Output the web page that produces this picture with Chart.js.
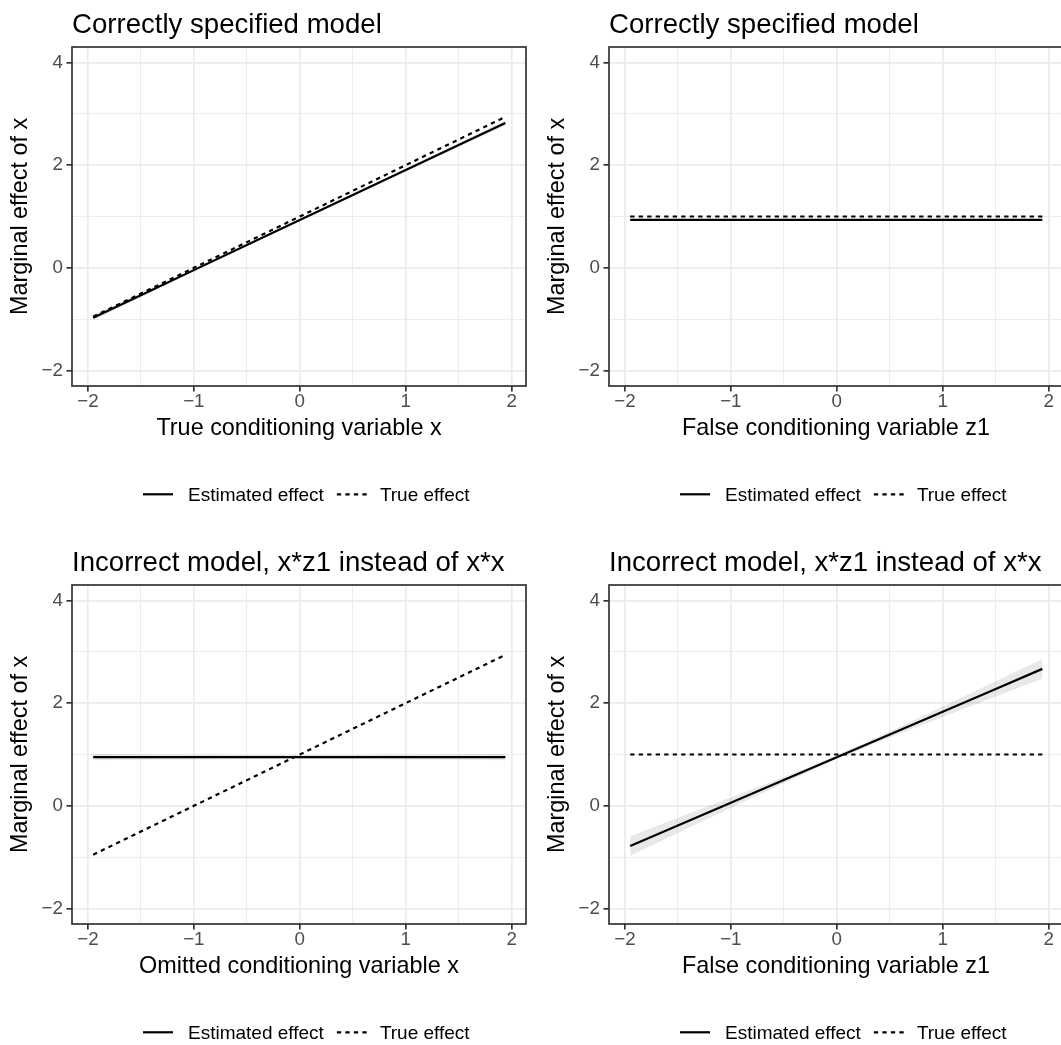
<!DOCTYPE html>
<html>
<head>
<meta charset="utf-8">
<title>Marginal effects</title>
<script src="https://cdn.jsdelivr.net/npm/chart.js@4.4.1/dist/chart.umd.min.js"></script>
<style>
  body { margin: 0; width: 1061px; height: 1045px; overflow: hidden; background: #fff; position: relative; }
  canvas { position: absolute; }
</style>
</head>
<body>
<canvas id="p1" width="537" height="537" style="left:0;top:0"></canvas>
<canvas id="p2" width="537" height="537" style="left:537px;top:0"></canvas>
<canvas id="p3" width="537" height="537" style="left:0;top:538px"></canvas>
<canvas id="p4" width="537" height="537" style="left:537px;top:538px"></canvas>
<script>
// values of the conditioning variable where the effects were evaluated
const xPoints = [-1.95, -1.5, -1, -0.5, 0, 0.5, 1, 1.5, 1.94];

// true marginal effect, 1 + x
const trueLinear = [-0.95, -0.5, 0, 0.5, 1, 1.5, 2, 2.5, 2.94];
const trueFlat = [1, 1, 1, 1, 1, 1, 1, 1, 1];

// correctly specified model, conditioning on x
const estCorrectX = [-0.97, -0.531, -0.044, 0.443, 0.93, 1.417, 1.904, 2.391, 2.82];
const lowCorrectX = [-1.02, -0.571, -0.072, 0.424, 0.915, 1.398, 1.876, 2.351, 2.77];
const highCorrectX = [-0.92, -0.491, -0.016, 0.462, 0.945, 1.436, 1.932, 2.431, 2.87];

// correctly specified model, conditioning on z1
const estCorrectZ = [0.936, 0.936, 0.936, 0.936, 0.936, 0.936, 0.936, 0.936, 0.936];
const lowCorrectZ = [0.914, 0.917, 0.92, 0.922, 0.923, 0.922, 0.92, 0.917, 0.914];
const highCorrectZ = [0.958, 0.955, 0.952, 0.95, 0.949, 0.95, 0.952, 0.955, 0.958];

// misspecified model, conditioning on the omitted x
const estWrongX = [0.95, 0.95, 0.95, 0.95, 0.95, 0.95, 0.95, 0.95, 0.95];
const lowWrongX = [0.89, 0.898, 0.905, 0.91, 0.912, 0.91, 0.905, 0.898, 0.89];
const highWrongX = [1.01, 1.002, 0.995, 0.99, 0.988, 0.99, 0.995, 1.002, 1.01];

// misspecified model, conditioning on z1
const estWrongZ = [-0.78, -0.381, 0.062, 0.505, 0.948, 1.391, 1.834, 2.277, 2.667];
const lowWrongZ = [-0.97, -0.529, -0.04, 0.446, 0.913, 1.332, 1.732, 2.129, 2.477];
const highWrongZ = [-0.59, -0.233, 0.164, 0.564, 0.983, 1.45, 1.936, 2.425, 2.857];

const xMajor = [-2, -1, 0, 1, 2];
const xMinor = [-1.5, -0.5, 0.5, 1.5];
const yMajor = [-2, 0, 2, 4];
const yMinor = [-1, 1, 3];

const legendLabels = ["Estimated effect", "True effect"];
const yTitle = "Marginal effect of x";

const FONT = "'Liberation Sans', Arial, Helvetica, sans-serif";
const DASH = [4.3, 4.2];

const pts = (ys) => xPoints.map((x, i) => ({ x: x, y: ys[i] }));
const fmt = (v) => (v < 0 ? "\u2212" + Math.abs(v) : String(v));

// border, title and legend drawn the way ggplot's theme_bw lays them out
const panelDecor = {
  id: "panelDecor",
  afterDraw(chart, args, opts) {
    const { ctx, chartArea: a } = chart;
    ctx.save();
    ctx.strokeStyle = "#333333";
    ctx.lineWidth = 1.7;
    ctx.setLineDash([]);
    ctx.strokeRect(a.left, a.top, a.right - a.left, a.bottom - a.top);

    ctx.fillStyle = "#000";
    ctx.textAlign = "left";
    ctx.textBaseline = "alphabetic";
    ctx.font = "27.6px " + FONT;
    ctx.fillText(opts.title, a.left, 32.5);

    // legend row under the axis title
    ctx.font = "19px " + FONT;
    const keyW = 30, keyY = 494.3, textY = 501.2;
    let x = 143;
    ctx.strokeStyle = "#000";
    ctx.lineWidth = 2.2;
    ctx.beginPath(); ctx.moveTo(x, keyY); ctx.lineTo(x + keyW, keyY); ctx.stroke();
    x += keyW + 15;
    ctx.fillText(legendLabels[0], x, textY);
    x += ctx.measureText(legendLabels[0]).width + 13;
    ctx.setLineDash(DASH);
    ctx.beginPath(); ctx.moveTo(x, keyY); ctx.lineTo(x + keyW, keyY); ctx.stroke();
    ctx.setLineDash([]);
    x += keyW + 13;
    ctx.fillText(legendLabels[1], x, textY);
    ctx.restore();
  }
};

function gridOpts(minor) {
  return {
    color: "#EBEBEB",
    lineWidth: (c) => (minor.includes(c.tick.value) ? 0.9 : 1.7),
    tickColor: (c) => (minor.includes(c.tick.value) ? "rgba(0,0,0,0)" : "#333333"),
    tickWidth: 1.7,
    tickLength: 5.5,
    drawTicks: true
  };
}

function makePanel(id, title, xTitle, est, low, high, truth) {
  new Chart(document.getElementById(id), {
    type: "line",
    data: {
      datasets: [
        { data: pts(est), borderColor: "#000", borderWidth: 2.2, pointRadius: 0, fill: false, order: 0 },
        { data: pts(truth), borderColor: "#000", borderWidth: 2.2, borderDash: DASH, pointRadius: 0, fill: false, order: 1 },
        { data: pts(low), borderWidth: 0, borderColor: "rgba(0,0,0,0)", pointRadius: 0, fill: false, order: 3 },
        { data: pts(high), borderWidth: 0, borderColor: "rgba(0,0,0,0)", pointRadius: 0, fill: "-1",
          backgroundColor: "rgba(0,0,0,0.09)", order: 2 }
      ]
    },
    options: {
      responsive: false,
      animation: false,
      devicePixelRatio: 1,
      layout: { padding: { top: 47, right: 11, bottom: 0, left: 0 } },
      plugins: {
        legend: { display: false },
        tooltip: { enabled: false },
        panelDecor: { title: title }
      },
      scales: {
        x: {
          type: "linear",
          min: -2.15,
          max: 2.135,
          afterBuildTicks: (s) => { s.ticks = xMajor.concat(xMinor).map((v) => ({ value: v })); },
          afterFit: (s) => { s.height = 151; },
          grid: gridOpts(xMinor),
          border: { display: false },
          ticks: {
            autoSkip: false,
            maxRotation: 0,
            padding: -0.5,
            color: "#4D4D4D",
            font: { family: FONT, size: 18.8 },
            callback: (v) => (xMajor.includes(v) ? fmt(v) : "")
          },
          title: {
            display: true,
            text: xTitle,
            color: "#000",
            font: { family: FONT, size: 23.4 },
            padding: { top: 0, bottom: 94 }
          }
        },
        y: {
          min: -2.3,
          max: 4.3,
          afterBuildTicks: (s) => { s.ticks = yMajor.concat(yMinor).map((v) => ({ value: v })); },
          afterFit: (s) => { s.width = 72; },
          grid: gridOpts(yMinor),
          border: { display: false },
          ticks: {
            padding: 3.5,
            color: "#4D4D4D",
            font: { family: FONT, size: 18.8 },
            callback: (v) => (yMajor.includes(v) ? fmt(v) : "")
          },
          title: {
            display: true,
            text: yTitle,
            color: "#000",
            font: { family: FONT, size: 23.4 },
            padding: { top: 6.6, bottom: 0 }
          }
        }
      }
    },
    plugins: [panelDecor]
  });
}

makePanel("p1", "Correctly specified model", "True conditioning variable x",
  estCorrectX, lowCorrectX, highCorrectX, trueLinear);
makePanel("p2", "Correctly specified model", "False conditioning variable z1",
  estCorrectZ, lowCorrectZ, highCorrectZ, trueFlat);
makePanel("p3", "Incorrect model, x*z1 instead of x*x", "Omitted conditioning variable x",
  estWrongX, lowWrongX, highWrongX, trueLinear);
makePanel("p4", "Incorrect model, x*z1 instead of x*x", "False conditioning variable z1",
  estWrongZ, lowWrongZ, highWrongZ, trueFlat);
</script>
</body>
</html>
